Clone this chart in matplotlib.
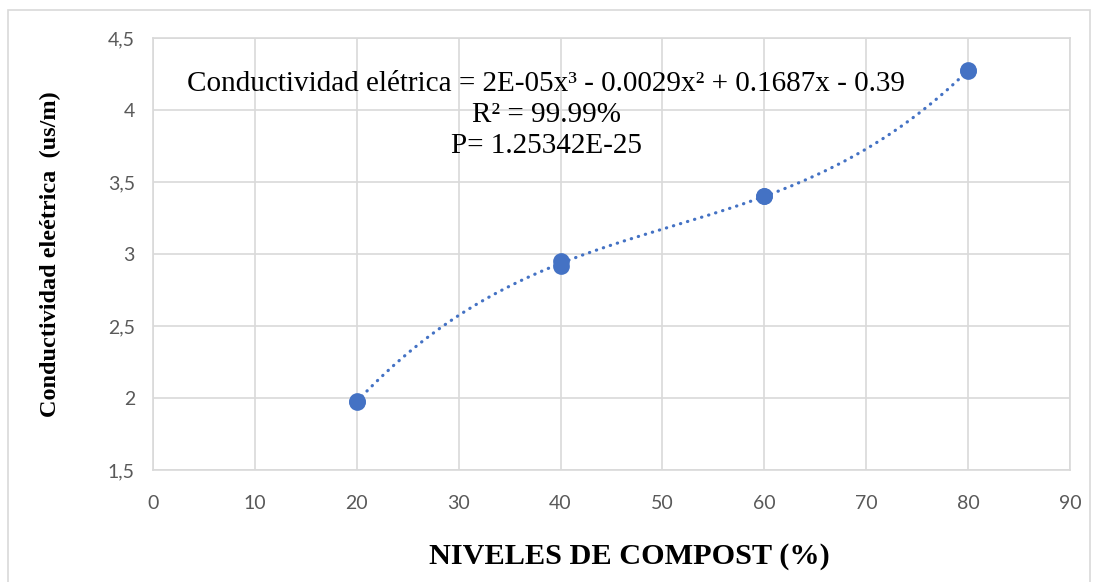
import numpy as np
import matplotlib
matplotlib.use('Agg')
import matplotlib.pyplot as plt
from matplotlib.patches import Rectangle

# data
niveles = [20, 20, 40, 40, 60, 60, 80, 80]
conductividad = [1.97, 1.98, 2.92, 2.95, 3.40, 3.40, 4.27, 4.28]
x_ticks = [0, 10, 20, 30, 40, 50, 60, 70, 80, 90]
y_ticks = [1.5, 2, 2.5, 3, 3.5, 4, 4.5]
y_tick_labels = ['1,5', '2', '2,5', '3', '3,5', '4', '4,5']
eq_text = ('Conductividad elétrica = 2E-05x\u00b3 - 0.0029x\u00b2 + 0.1687x - 0.39\n'
           'R\u00b2 = 99.99%\n'
           'P= 1.25342E-25')

blue = '#4472C4'
grid_col = '#d9d9d9'
tick_col = '#595959'

fig = plt.figure(figsize=(10.97, 5.82), dpi=100)
fig.patch.set_facecolor('white')
ax = fig.add_axes([153 / 1097, 1 - 470 / 582, 917 / 1097, 432 / 582])

# outer chart border
fig.patches.append(Rectangle((8 / 1097, -0.01), 1082 / 1097, 1 - 10 / 582 + 0.01,
                             transform=fig.transFigure, fill=False,
                             edgecolor=grid_col, linewidth=1.2))

# cubic trendline (polynomial order 3)
coef = np.polyfit(niveles, conductividad, 3)
xs = np.linspace(min(niveles), max(niveles), 200)
ax.plot(xs, np.polyval(coef, xs), color=blue, linewidth=2.3,
        linestyle=(0, (0.1, 2.2)), dash_capstyle='round', zorder=3)

ax.scatter(niveles, conductividad, s=145, color=blue, zorder=4, linewidths=0)

ax.set_xlim(0, 90)
ax.set_ylim(1.5, 4.5)
ax.set_xticks(x_ticks)
ax.set_yticks(y_ticks)
ax.set_yticklabels(y_tick_labels)
ax.grid(True, color=grid_col, linewidth=1.2)
ax.set_axisbelow(True)
ax.tick_params(length=0, labelsize=14, colors=tick_col)
ax.tick_params(axis='x', pad=18)
ax.tick_params(axis='y', pad=13)
for lab in ax.get_xticklabels() + ax.get_yticklabels():
    lab.set_family('Lato')
for sp in ax.spines.values():
    sp.set_color(grid_col)
    sp.set_linewidth(1.2)

ax.text(38.6, 3.965, eq_text, ha='center', va='center', multialignment='center',
        fontsize=21, family='Liberation Serif', linespacing=1.25, zorder=5)

ax.set_xlabel('NIVELES DE COMPOST (%)', fontsize=21.8, fontweight='bold',
              family='Liberation Serif')
ax.xaxis.set_label_coords(0.519, -0.169)
ax.set_ylabel('Conductividad eleétrica  (us/m)', fontsize=17.5, fontweight='bold',
              family='Liberation Serif', labelpad=34)

fig.savefig('out.png', dpi=100)
